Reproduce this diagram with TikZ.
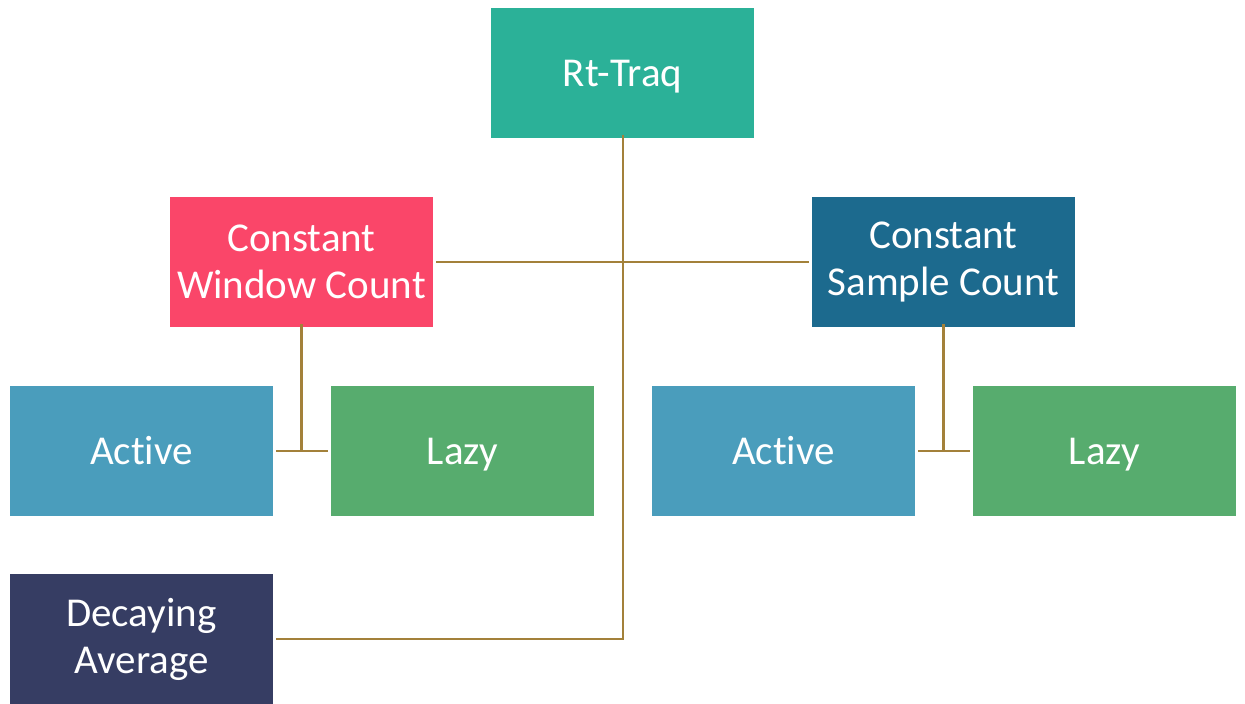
\documentclass[tikz,border=0pt]{standalone}
\usepackage{fontspec}
\setmainfont{Carlito}[Ligatures=NoCommon]
\begin{document}
\begin{tikzpicture}[x=1pt,y=-1pt,
  box/.style={minimum width=263pt,minimum height=130pt,inner sep=0pt,text=white,
    font=\fontsize{41}{47}\selectfont,align=center,anchor=center},
  one/.style={text height=28pt,text depth=2pt},
  conn/.style={draw=linec,line width=2.6pt}]
\definecolor{teal1}{HTML}{2BB198}
\definecolor{pink1}{HTML}{FA4669}
\definecolor{navy1}{HTML}{1C6A8E}
\definecolor{act}{HTML}{4A9DBC}
\definecolor{lazy}{HTML}{57AC6E}
\definecolor{dec}{HTML}{363D63}
\definecolor{linec}{HTML}{A3813A}
\useasboundingbox (0,0) rectangle (1245,704);
\node[box,one,fill=teal1] (rt) at (622.5,73) {Rt-Traq};
\node[box,fill=pink1] (cw) at (301.5,262) {Constant\\Window Count};
\node[box,fill=navy1] (cs) at (943.5,262) {Constant\\Sample Count};
\node[box,one,fill=act] (a1) at (141.5,451) {Active};
\node[box,one,fill=lazy] (l1) at (462.5,451) {Lazy};
\node[box,one,fill=act] (a2) at (783.5,451) {Active};
\node[box,one,fill=lazy] (l2) at (1104.5,451) {Lazy};
\node[box,fill=dec] (da) at (141.5,639) {Decaying\\Average};
\coordinate (j1) at (623,639);
\draw[conn] ([yshift=3pt]rt.south -| j1) -- (j1) -- ([xshift=3pt]da.east);
\draw[conn] ([xshift=3pt]cw.east) -- ([xshift=-3pt]cs.west);
\coordinate (j2) at (301.5,451);
\draw[conn] ([yshift=3pt]cw.south) -- (j2);
\draw[conn] ([xshift=3pt]a1.east) -- ([xshift=-3pt]l1.west);
\coordinate (j3) at (943.5,451);
\draw[conn] ([yshift=3pt]cs.south) -- (j3);
\draw[conn] ([xshift=3pt]a2.east) -- ([xshift=-3pt]l2.west);
\end{tikzpicture}
\end{document}
